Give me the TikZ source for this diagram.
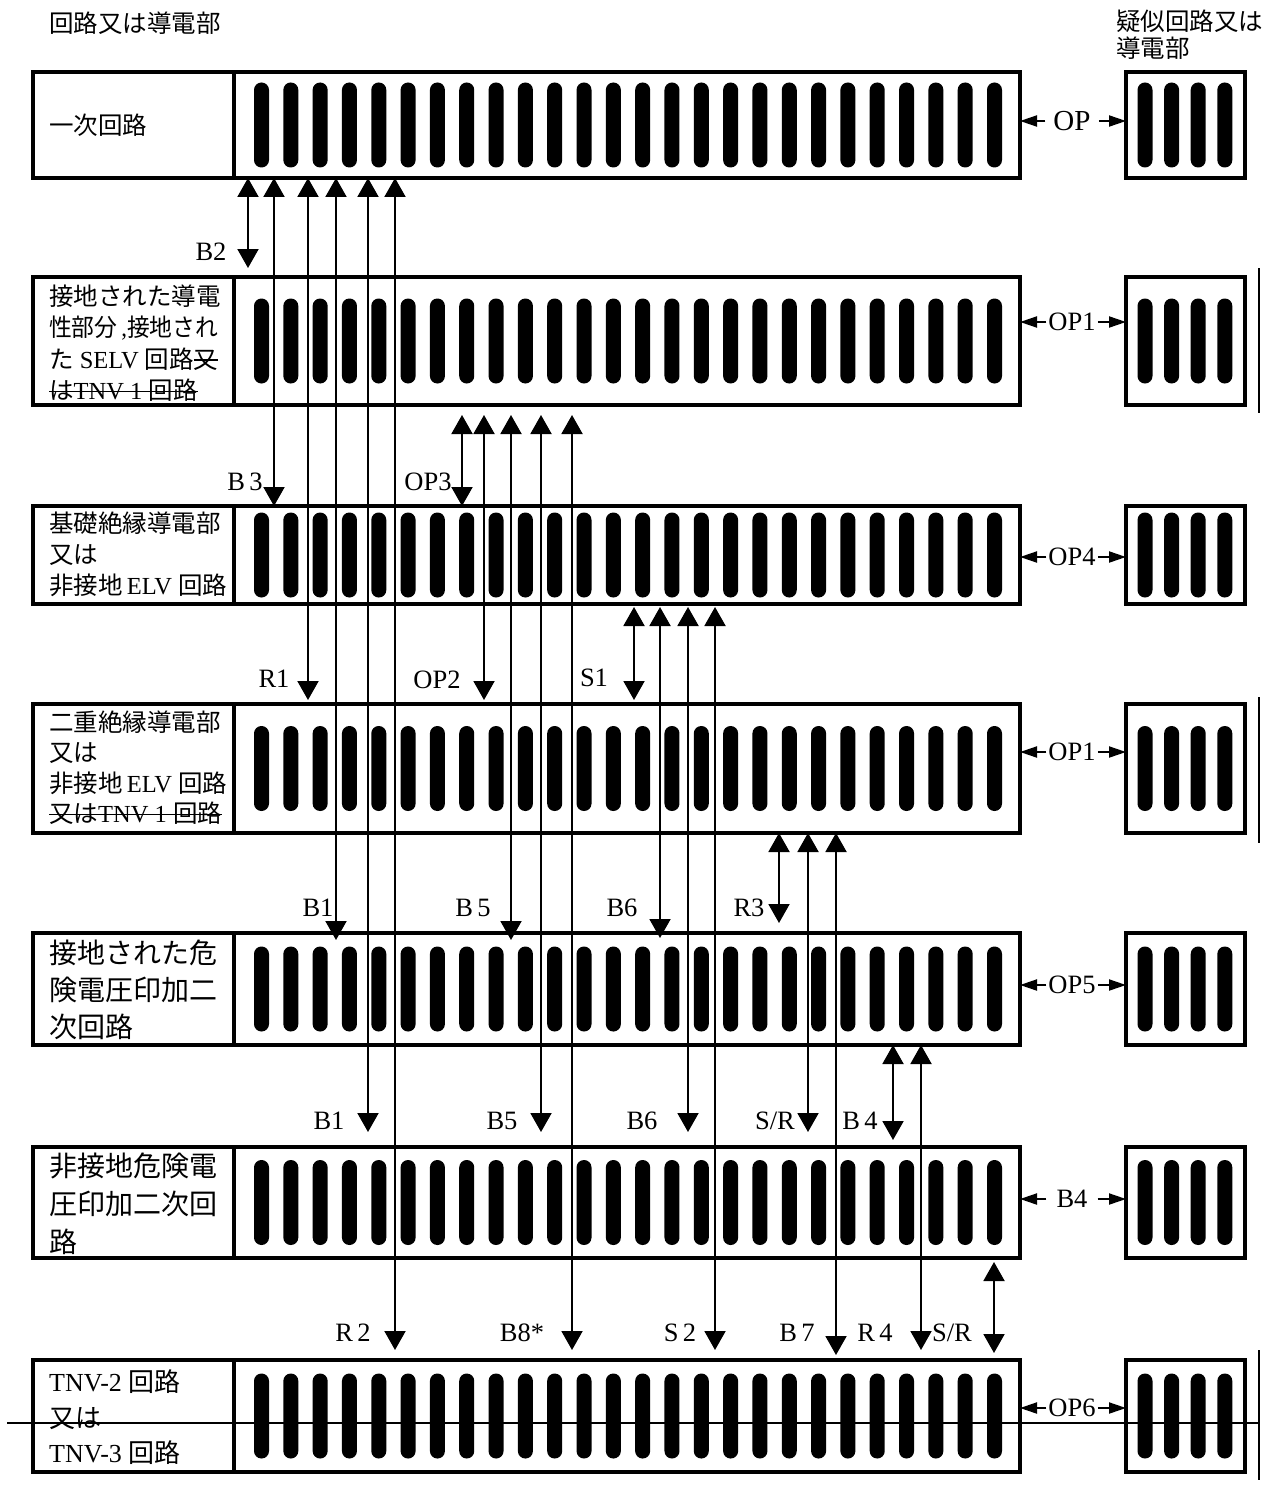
\documentclass[tikz,border=0pt]{standalone}
\usepackage{fontspec}
\usepackage{graphicx}
\setmainfont{Liberation Serif}
\newfontfamily\jp{Noto Sans CJK JP}
\newsavebox{\strkbox}
\newcommand{\mystrike}[1]{\sbox{\strkbox}{#1}\rlap{\rule[0.3em]{\wd\strkbox}{1.5pt}}\usebox{\strkbox}}
\usetikzlibrary{arrows.meta}
\begin{document}
\begin{tikzpicture}[x=1pt,y=-1pt,
  box/.style={draw, line width=3.3pt, inner sep=0pt, outer sep=0pt, fill=white},
  lt/.style={anchor=west, align=left, inner sep=0pt},
  lab/.style={font=\fontsize{26.5}{26.5}\selectfont, inner sep=0pt},
  vv/.style={{Triangle[length=19pt,width=21pt]}-{Triangle[length=19pt,width=21pt]}, line width=2pt},
  hh/.style={-{Triangle[length=17pt,width=11pt]}, line width=2pt},
  bar/.style={fill=black, rounded corners=7.4pt},
  rule/.style={line width=2pt}]
\useasboundingbox (0,0) rectangle (1279,1490);

% headers
\node[lt, font=\fontsize{24.5}{27}\selectfont] (H0) at (49,23) {\jp 回路又は導電部};
\node[lt, font=\fontsize{24.5}{27}\selectfont] (H9) at (1116,34.5) {\jp 疑似回路又は\\\jp 導電部};

% rows of boxes and bars
\foreach \r/\t/\b in {1/72/178,2/277/405,3/506/604,4/704/833,5/933/1045,6/1147/1258,7/1360/1472}{
  \pgfmathsetmacro\c{(\t+\b)/2}
  \pgfmathsetmacro\h{\b-\t}
  \node[box, minimum width=201pt, minimum height=\h pt] (L\r) at (133.5,\c) {};
  \node[box, minimum width=786pt, minimum height=\h pt] (M\r) at (627,\c) {};
  \node[box, minimum width=119pt, minimum height=\h pt] (R\r) at (1185.5,\c) {};
  \foreach \i in {0,...,25} \fill[bar] ({254+29.32*\i},\c-42.5) rectangle ++(15,85);
  \foreach \i in {0,...,3} \fill[bar] ({1137.5+26.6*\i},\c-42.5) rectangle ++(15,85);
}

% left texts
\node[lt, font=\fontsize{24.5}{31.5}\selectfont] (T1) at (49,125) {\jp 一次回路};
\node[lt, font=\fontsize{24.5}{31.5}\selectfont] (T2) at (49,343) {{\jp 接地された導電}\\\scalebox{0.93}[1]{{\jp 性部分}\,,{\jp 接地され}}\\{\jp た} SELV {\jp 回路}\mystrike{\jp 又}\\\mystrike{{\jp は}TNV 1 {\jp 回路}}};
\node[lt, font=\fontsize{24.5}{31}\selectfont] (T3) at (49,554) {{\jp 基礎絶縁導電部}\\{\jp 又は}\\{\jp 非接地}\,ELV {\jp 回路}};
\node[lt, font=\fontsize{24.5}{30.5}\selectfont] (T4) at (49,767.5) {{\jp 二重絶縁導電部}\\{\jp 又は}\\{\jp 非接地}\,ELV {\jp 回路}\\\mystrike{{\jp 又は}TNV 1 {\jp 回路}}};
\node[lt, font=\fontsize{28}{37}\selectfont] (T5) at (49,990) {{\jp 接地された危}\\{\jp 険電圧印加二}\\{\jp 次回路}};
\node[lt, font=\fontsize{28}{38}\selectfont] (T6) at (49,1204) {{\jp 非接地危険電}\\{\jp 圧印加二次回}\\{\jp 路}};
\node[lt, font=\fontsize{26}{35.5}\selectfont] (T7) at (49,1417.5) {TNV-2 {\jp 回路}\\{\jp 又は}\\TNV-3 {\jp 回路}};

% vertical double arrows
\foreach \x/\a/\sa/\b/\sb in {
  248/1/0/2/9, 274/1/0/3/0, 308/1/0/4/4, 336/1/0/5/-7, 368/1/0/6/15, 395/1/0/7/10,
  462/2/-10/3/0, 484/2/-10/4/4, 511/2/-10/5/-7, 541/2/-10/6/15, 572/2/-10/7/10,
  634/3/-3/4/4, 660/3/-3/5/-5, 688/3/-3/6/15, 715/3/-3/7/10,
  779/4/0/5/10, 808/4/0/6/15, 836/4/0/7/5,
  893/5/0/6/7, 921/5/0/7/10,
  994/6/-4/7/7}
  \draw[vv] ([yshift=\sa pt]\x,0|-M\a.south) -- ([yshift=\sb pt]\x,0|-M\b.north);

% arrow labels
\foreach \x/\y/\t [count=\n] in {
  211/252/B2, 245/482/B\,3, 274/679/R1, 318/908/B1, 329/1121/B1, 353/1333/R\,2,
  428/482/OP3, 437/680/OP2, 473/908/B\,5, 502/1121/B5, 522/1333/B8*,
  594/678/S1, 622/908/B6, 642/1121/B6, 680/1333/S\,2,
  749/908/R3, 775/1121/{S/R}, 797/1333/B\,7,
  860/1121/B\,4, 875/1333/R\,4, 952/1333/{S/R}}
  \node[lab] (lb\n) at (\x,\y) {\t};

% horizontal arrows to the right boxes
\foreach \r/\y/\t/\s/\f in {1/121/OP/8/29, 2/322/OP1/2/26.5, 3/557/OP4/2/26.5, 4/752/OP1/2/26.5, 5/985/OP5/2/26.5, 6/1199/B4/10/26.5, 7/1408/OP6/2/26.5}{
  \node[lab, inner xsep=\s pt, font=\fontsize{\f}{\f}\selectfont] (E\r) at (1072,\y) {\t};
  \draw[hh] (E\r.west) -- (E\r.west -| M\r.east);
  \draw[hh] (E\r.east) -- (E\r.east -| R\r.west);
}

% vertical rules beside the right boxes
\draw[rule] ([xshift=14pt,yshift=9pt]R2.north east) -- ([xshift=14pt,yshift=-8pt]R2.south east);
\draw[rule] ([xshift=14pt,yshift=7pt]R4.north east) -- ([xshift=14pt,yshift=-10pt]R4.south east);
\draw[rule] ([xshift=14pt,yshift=10pt]R7.north east) -- ([xshift=14pt,yshift=-8pt]R7.south east);

% long horizontal rule through the last row
\coordinate (hl) at (7,1423);
\coordinate (hr) at (1259,1423);
\draw[rule] (hl) -- (hr);
\end{tikzpicture}
\end{document}
